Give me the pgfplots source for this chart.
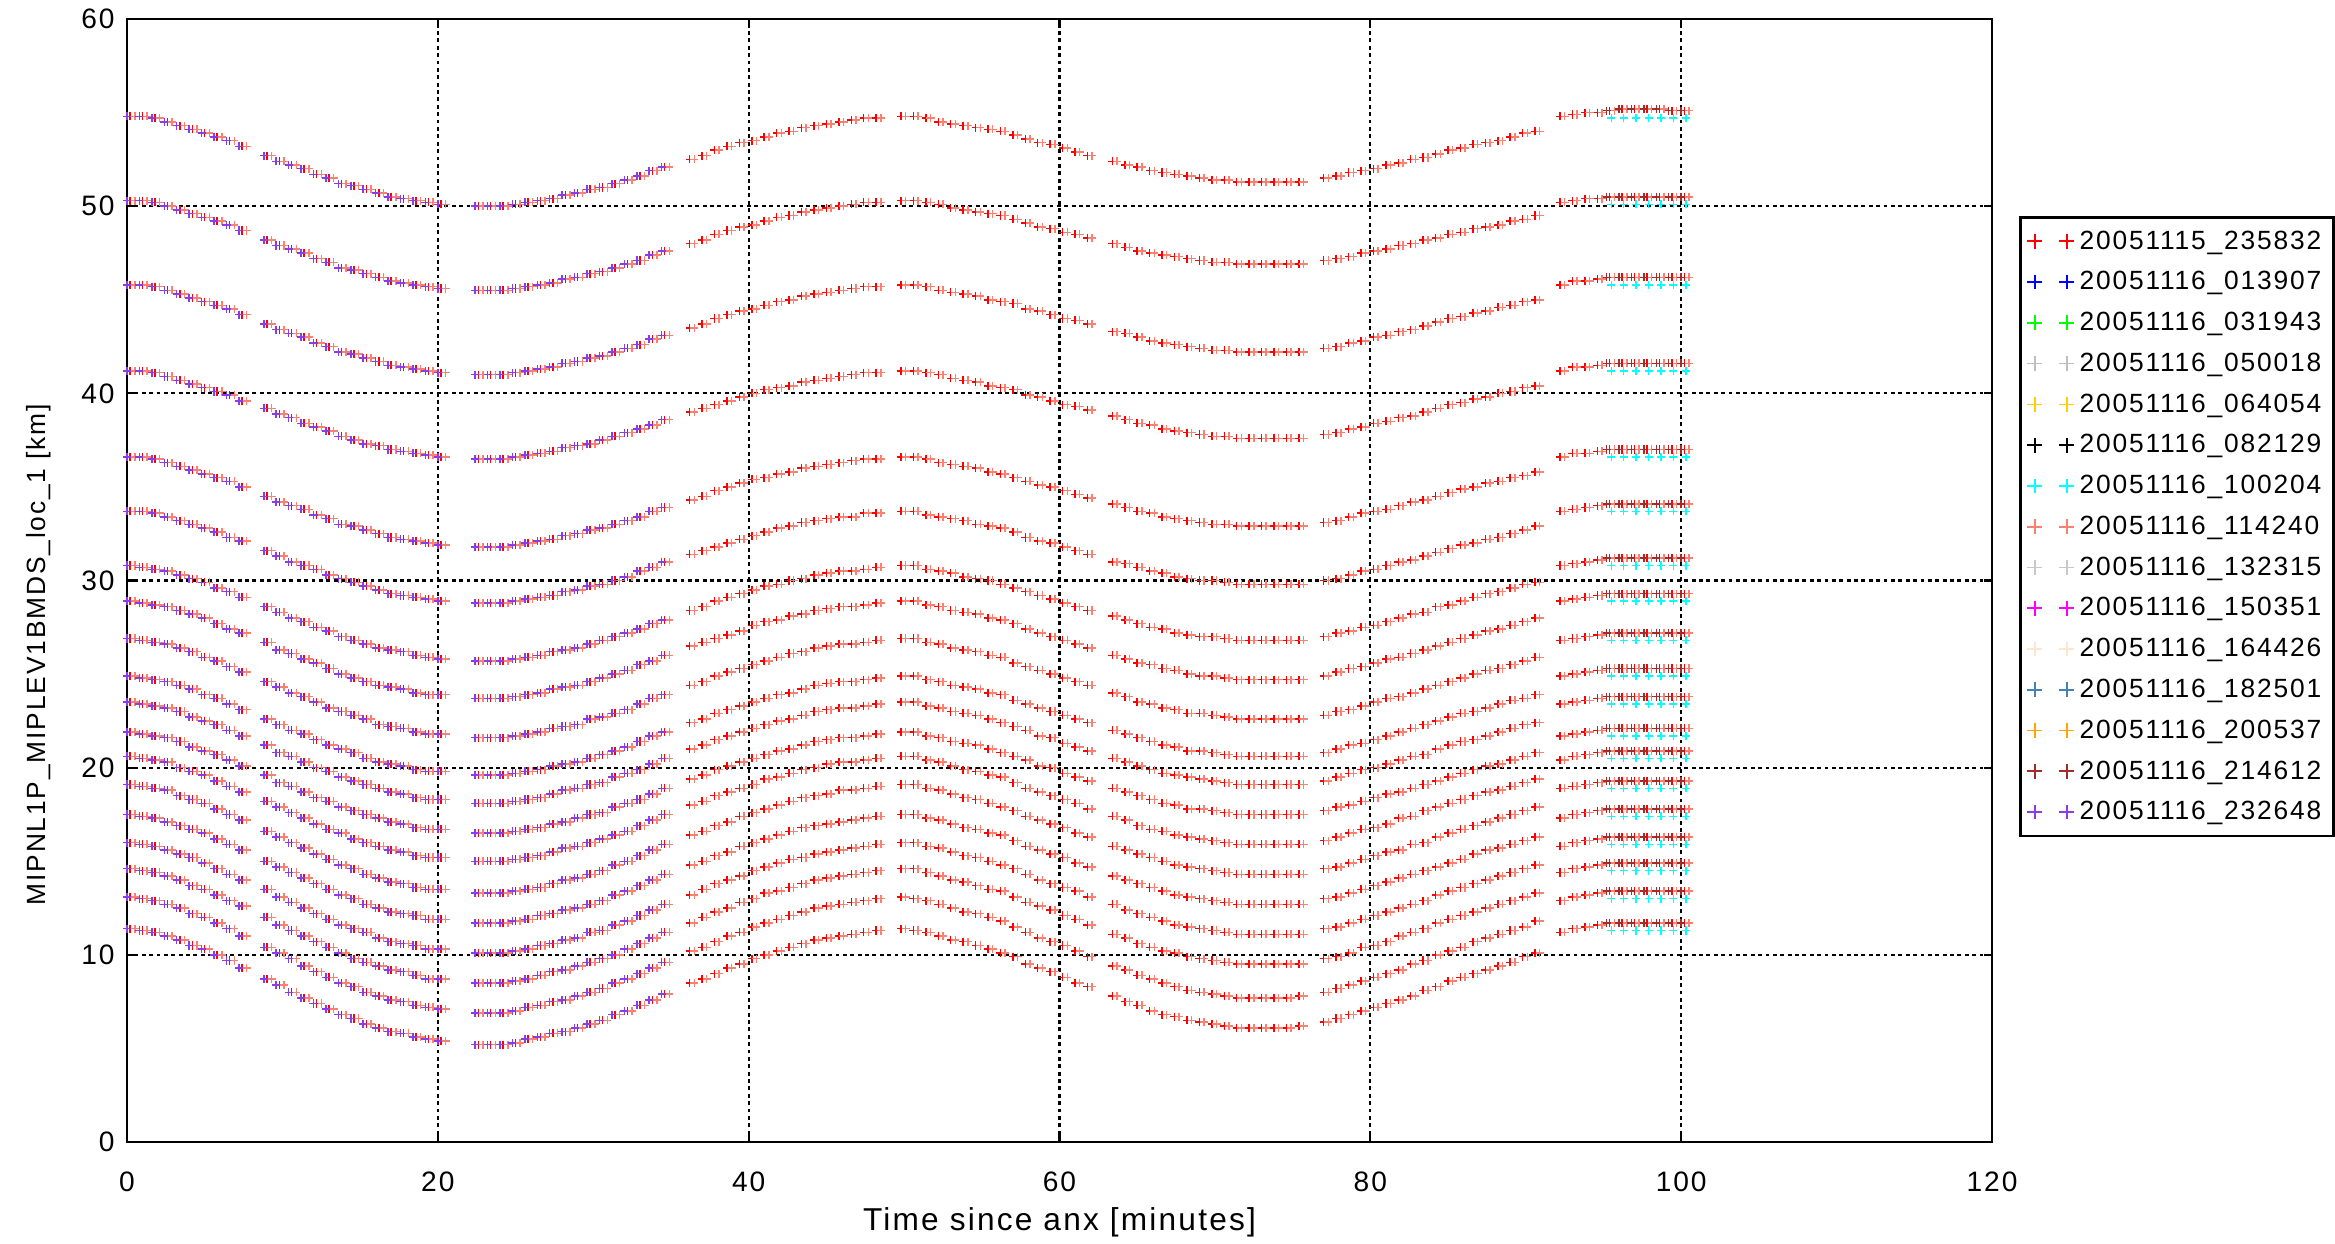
\documentclass[border=0pt]{standalone}
\usepackage{fontspec}
\setmainfont[LetterSpace=7]{Liberation Sans}
\usepackage{pgfplots}
\usepackage{pgfplotstable}
\pgfplotsset{compat=1.18}

\definecolor{cRed}{RGB}{255,0,0}
\definecolor{cBlue}{RGB}{0,0,255}
\definecolor{cGreen}{RGB}{0,255,0}
\definecolor{cGrayA}{RGB}{190,190,190}
\definecolor{cGold}{RGB}{255,205,0}
\definecolor{cBlack}{RGB}{0,0,0}
\definecolor{cCyan}{RGB}{0,255,255}
\definecolor{cSalmon}{RGB}{250,128,114}
\definecolor{cGrayB}{RGB}{200,200,200}
\definecolor{cMagenta}{RGB}{255,0,255}
\definecolor{cBisque}{RGB}{253,230,205}
\definecolor{cSteel}{RGB}{70,130,180}
\definecolor{cOrange}{RGB}{255,165,0}
\definecolor{cBrown}{RGB}{165,42,42}
\definecolor{cPurple}{RGB}{140,60,230}

% altitude tracks: t = time of red series, ts/tp = times of the overlapping series
\pgfplotstableread{
t ts tp c1 c2 c3 c4 c5 c6 c7 c8 c9 c10 c11 c12 c13 c14 c15 c16 c17 c18 c19
0.2 0.5 0.0 54.8 50.3 45.8 41.2 36.6 33.7 30.8 28.9 26.9 24.9 23.5 21.9 20.6 19.1 17.5 16.0 14.6 13.1 11.4
1.0 1.3 0.8 54.8 50.3 45.8 41.2 36.6 33.7 30.7 28.8 26.8 24.8 23.4 21.8 20.5 19.0 17.4 15.9 14.5 13.0 11.3
1.8 2.1 1.6 54.7 50.2 45.7 41.1 36.5 33.6 30.6 28.7 26.7 24.7 23.3 21.7 20.4 18.9 17.3 15.8 14.4 12.9 11.2
2.6 2.9 2.4 54.5 50.0 45.5 40.9 36.3 33.4 30.5 28.6 26.6 24.6 23.2 21.6 20.3 18.8 17.1 15.6 14.2 12.7 11.0
3.4 3.7 3.2 54.3 49.8 45.3 40.7 36.1 33.2 30.3 28.4 26.4 24.4 23.0 21.4 20.0 18.5 16.9 15.4 14.0 12.5 10.8
4.2 4.5 4.0 54.1 49.6 45.1 40.5 35.9 33.0 30.1 28.2 26.2 24.2 22.7 21.1 19.8 18.3 16.7 15.2 13.7 12.2 10.5
5.0 5.3 4.8 53.9 49.4 44.9 40.3 35.7 32.8 29.9 28.0 25.9 23.9 22.5 20.9 19.6 18.1 16.5 14.9 13.5 12.0 10.3
5.8 6.1 5.6 53.7 49.2 44.7 40.1 35.5 32.6 29.6 27.7 25.7 23.7 22.3 20.7 19.3 17.8 16.2 14.6 13.2 11.7 10.0
6.6 6.9 6.4 53.5 49.0 44.5 39.9 35.3 32.3 29.4 27.4 25.4 23.4 22.0 20.4 19.0 17.5 15.9 14.3 12.9 11.4 9.7
7.4 7.7 7.2 53.2 48.7 44.2 39.6 35.0 32.1 29.1 27.2 25.1 23.1 21.7 20.1 18.7 17.2 15.6 14.0 12.6 11.0 9.3
9.0 9.3 8.8 52.7 48.2 43.7 39.2 34.5 31.6 28.6 26.7 24.6 22.6 21.2 19.6 18.2 16.6 15.0 13.5 12.0 10.4 8.7
9.8 10.1 9.6 52.4 47.9 43.4 38.9 34.2 31.3 28.3 26.3 24.3 22.3 20.8 19.2 17.9 16.3 14.7 13.1 11.6 10.1 8.4
10.6 10.9 10.4 52.2 47.7 43.2 38.7 34.0 31.0 28.0 26.1 24.0 22.0 20.6 19.0 17.6 16.0 14.4 12.8 11.3 9.8 8.0
11.4 11.7 11.2 52.0 47.5 43.0 38.4 33.8 30.8 27.8 25.8 23.8 21.8 20.3 18.7 17.3 15.7 14.1 12.5 11.0 9.4 7.7
12.2 12.5 12.0 51.7 47.2 42.7 38.2 33.5 30.6 27.5 25.6 23.5 21.5 20.0 18.4 17.0 15.4 13.8 12.2 10.7 9.1 7.4
13.0 13.3 12.8 51.5 47.0 42.5 38.0 33.3 30.3 27.3 25.3 23.2 21.2 19.8 18.2 16.7 15.1 13.5 11.9 10.4 8.8 7.1
13.8 14.1 13.6 51.2 46.7 42.2 37.7 33.0 30.1 27.0 25.0 23.0 21.0 19.5 17.9 16.5 14.8 13.2 11.6 10.1 8.5 6.8
14.6 14.9 14.4 51.1 46.6 42.1 37.5 32.9 29.9 26.8 24.8 22.8 20.8 19.3 17.7 16.2 14.6 13.0 11.4 9.8 8.3 6.6
15.4 15.7 15.2 50.9 46.4 41.9 37.3 32.7 29.7 26.6 24.6 22.6 20.5 19.1 17.5 16.0 14.3 12.7 11.2 9.6 8.0 6.3
16.2 16.5 16.0 50.7 46.2 41.7 37.2 32.5 29.5 26.4 24.4 22.3 20.3 18.9 17.3 15.8 14.1 12.5 10.9 9.4 7.8 6.1
17.0 17.3 16.8 50.5 46.0 41.5 37.0 32.3 29.3 26.3 24.3 22.2 20.2 18.7 17.1 15.6 13.9 12.3 10.7 9.2 7.6 5.9
17.8 18.1 17.6 50.4 45.9 41.4 36.9 32.2 29.2 26.2 24.2 22.1 20.1 18.6 17.0 15.5 13.8 12.2 10.6 9.1 7.5 5.8
18.6 18.9 18.4 50.3 45.8 41.3 36.8 32.1 29.1 26.0 24.0 21.9 19.9 18.4 16.8 15.3 13.6 12.1 10.5 8.9 7.3 5.6
19.4 19.7 19.2 50.2 45.7 41.2 36.7 32.0 29.0 25.9 23.9 21.8 19.8 18.3 16.7 15.2 13.5 11.9 10.3 8.7 7.2 5.5
20.2 20.5 20.0 50.1 45.6 41.1 36.6 31.9 28.9 25.8 23.9 21.8 19.8 18.3 16.7 15.2 13.5 11.9 10.3 8.7 7.1 5.4
22.6 22.9 22.4 50.0 45.5 41.0 36.5 31.8 28.8 25.7 23.7 21.6 19.6 18.1 16.5 15.0 13.3 11.7 10.1 8.5 6.9 5.2
23.4 23.7 23.2 50.0 45.5 41.0 36.5 31.8 28.8 25.7 23.7 21.6 19.6 18.1 16.5 15.0 13.3 11.7 10.1 8.5 6.9 5.2
24.2 24.5 24.0 50.0 45.5 41.0 36.5 31.8 28.8 25.7 23.7 21.6 19.6 18.1 16.5 15.0 13.3 11.7 10.1 8.5 6.9 5.2
25.0 25.3 24.8 50.1 45.6 41.1 36.6 31.9 28.9 25.8 23.8 21.7 19.7 18.2 16.6 15.1 13.4 11.8 10.2 8.6 7.0 5.3
25.8 26.1 25.6 50.2 45.7 41.2 36.7 32.0 29.0 25.9 23.9 21.8 19.8 18.3 16.7 15.2 13.5 11.9 10.3 8.7 7.2 5.5
26.6 26.9 26.4 50.3 45.8 41.3 36.8 32.1 29.1 26.0 24.0 21.9 19.9 18.4 16.8 15.3 13.6 12.1 10.5 8.9 7.3 5.6
27.4 27.7 27.2 50.4 45.9 41.4 36.9 32.2 29.2 26.2 24.2 22.1 20.1 18.6 17.0 15.5 13.8 12.2 10.6 9.1 7.5 5.8
28.2 28.5 28.0 50.6 46.1 41.6 37.1 32.4 29.4 26.3 24.3 22.2 20.2 18.8 17.1 15.7 14.0 12.4 10.8 9.2 7.6 5.9
29.0 29.3 28.8 50.7 46.2 41.7 37.2 32.5 29.5 26.4 24.4 22.3 20.3 18.9 17.3 15.8 14.1 12.5 10.9 9.4 7.8 6.1
29.8 30.1 29.6 50.9 46.4 41.9 37.3 32.7 29.7 26.6 24.6 22.6 20.5 19.1 17.5 16.0 14.3 12.7 11.2 9.6 8.0 6.3
30.6 30.9 30.4 51.0 46.5 42.0 37.5 32.8 29.8 26.8 24.8 22.7 20.7 19.2 17.6 16.2 14.5 12.9 11.3 9.8 8.2 6.5
31.4 31.7 31.2 51.2 46.7 42.2 37.7 33.0 30.0 27.0 25.0 22.9 20.9 19.5 17.9 16.4 14.8 13.2 11.6 10.0 8.5 6.8
32.2 32.5 32.0 51.4 46.9 42.4 37.9 33.2 30.2 27.2 25.2 23.1 21.1 19.7 18.1 16.6 15.0 13.4 11.8 10.3 8.7 7.0
33.0 33.3 32.8 51.6 47.1 42.6 38.1 33.4 30.5 27.4 25.5 23.4 21.4 19.9 18.3 16.9 15.3 13.7 12.1 10.6 9.0 7.3
33.8 34.1 33.6 51.9 47.4 42.9 38.3 33.7 30.7 27.7 25.7 23.7 21.7 20.2 18.6 17.2 15.6 14.0 12.4 10.9 9.3 7.6
34.6 34.9 34.4 52.1 47.6 43.1 38.6 33.9 31.0 27.9 26.0 23.9 21.9 20.5 18.9 17.5 15.9 14.3 12.7 11.2 9.6 7.9
36.2 36.5 36.0 52.5 48.0 43.5 39.0 34.3 31.4 28.4 26.5 24.4 22.4 21.0 19.4 18.0 16.4 14.8 13.2 11.7 10.2 8.5
37.0 37.3 36.8 52.7 48.2 43.7 39.2 34.5 31.6 28.6 26.7 24.6 22.6 21.2 19.6 18.2 16.6 15.0 13.5 12.0 10.4 8.7
37.8 38.1 37.6 53.0 48.5 44.0 39.4 34.8 31.8 28.9 26.9 24.9 22.9 21.5 19.9 18.5 16.9 15.3 13.8 12.3 10.7 9.0
38.6 38.9 38.4 53.2 48.7 44.2 39.6 35.0 32.0 29.1 27.1 25.1 23.1 21.7 20.1 18.7 17.1 15.5 14.0 12.5 11.0 9.3
39.4 39.7 39.2 53.4 48.9 44.4 39.8 35.2 32.2 29.3 27.3 25.3 23.3 21.9 20.3 18.9 17.4 15.8 14.2 12.8 11.2 9.5
40.2 40.5 40.0 53.5 49.0 44.5 40.0 35.4 32.4 29.5 27.6 25.5 23.5 22.1 20.5 19.1 17.6 16.0 14.5 13.0 11.5 9.8
41.0 41.3 40.8 53.7 49.2 44.7 40.2 35.5 32.6 29.7 27.8 25.7 23.7 22.3 20.7 19.4 17.8 16.2 14.7 13.3 11.7 10.0
41.8 42.1 41.6 53.9 49.4 44.9 40.3 35.7 32.8 29.8 27.9 25.9 23.9 22.5 20.9 19.5 18.0 16.4 14.9 13.4 11.9 10.2
42.6 42.9 42.4 54.0 49.5 45.0 40.4 35.8 32.9 30.0 28.1 26.1 24.0 22.6 21.0 19.7 18.2 16.6 15.1 13.6 12.1 10.4
43.4 43.7 43.2 54.2 49.7 45.2 40.6 36.0 33.1 30.1 28.2 26.2 24.2 22.8 21.2 19.9 18.4 16.8 15.2 13.8 12.3 10.6
44.2 44.5 44.0 54.3 49.8 45.3 40.7 36.1 33.2 30.3 28.4 26.4 24.4 23.0 21.4 20.0 18.5 16.9 15.4 14.0 12.5 10.8
45.0 45.3 44.8 54.4 49.9 45.4 40.8 36.2 33.3 30.4 28.5 26.5 24.5 23.1 21.5 20.2 18.6 17.0 15.5 14.1 12.6 10.9
45.8 46.1 45.6 54.5 50.0 45.5 40.9 36.3 33.4 30.5 28.6 26.6 24.6 23.2 21.6 20.3 18.8 17.1 15.6 14.2 12.7 11.0
46.6 46.9 46.4 54.6 50.1 45.6 41.0 36.4 33.4 30.5 28.6 26.6 24.6 23.2 21.6 20.3 18.8 17.2 15.7 14.3 12.8 11.1
47.4 47.7 47.2 54.7 50.2 45.7 41.1 36.5 33.6 30.6 28.7 26.7 24.7 23.3 21.7 20.4 18.9 17.3 15.8 14.4 12.9 11.2
48.2 48.5 48.0 54.7 50.2 45.7 41.1 36.5 33.6 30.7 28.8 26.8 24.8 23.4 21.8 20.5 19.0 17.4 15.9 14.5 13.0 11.3
49.8 50.1 49.6 54.8 50.3 45.8 41.2 36.6 33.7 30.8 28.9 26.9 24.9 23.5 21.9 20.6 19.1 17.5 16.0 14.6 13.1 11.4
50.6 50.9 50.4 54.8 50.3 45.8 41.2 36.6 33.7 30.8 28.9 26.9 24.9 23.5 21.9 20.6 19.1 17.5 16.0 14.6 13.0 11.3
51.4 51.7 51.2 54.7 50.2 45.7 41.1 36.5 33.5 30.6 28.7 26.7 24.7 23.3 21.7 20.4 18.9 17.3 15.8 14.4 12.9 11.2
52.2 52.5 52.0 54.5 50.1 45.5 41.0 36.3 33.4 30.5 28.6 26.6 24.6 23.2 21.6 20.3 18.8 17.2 15.7 14.2 12.7 11.0
53.0 53.3 52.8 54.4 49.9 45.4 40.8 36.2 33.3 30.4 28.4 26.4 24.4 23.0 21.4 20.1 18.6 17.0 15.5 14.0 12.5 10.8
53.8 54.1 53.6 54.3 49.8 45.3 40.7 36.1 33.2 30.2 28.3 26.3 24.3 22.9 21.3 19.9 18.4 16.8 15.3 13.9 12.3 10.7
54.6 54.9 54.4 54.2 49.7 45.2 40.6 36.0 33.0 30.1 28.2 26.2 24.2 22.8 21.2 19.8 18.3 16.7 15.2 13.7 12.2 10.5
55.4 55.7 55.2 54.1 49.6 45.0 40.4 35.8 32.9 30.0 28.0 26.0 24.0 22.6 21.0 19.6 18.1 16.5 15.0 13.5 12.0 10.3
56.2 56.5 56.0 54.0 49.5 44.9 40.3 35.7 32.8 29.8 27.9 25.9 23.9 22.4 20.8 19.5 17.9 16.4 14.8 13.4 11.8 10.1
57.0 57.3 56.8 53.8 49.3 44.8 40.2 35.5 32.6 29.6 27.7 25.6 23.6 22.2 20.6 19.2 17.7 16.1 14.6 13.1 11.5 9.9
57.8 58.1 57.6 53.6 49.1 44.5 39.9 35.3 32.3 29.4 27.4 25.4 23.4 22.0 20.4 18.9 17.4 15.8 14.3 12.8 11.2 9.5
58.6 58.9 58.4 53.4 48.9 44.4 39.8 35.1 32.1 29.2 27.2 25.2 23.2 21.7 20.1 18.7 17.2 15.6 14.0 12.6 10.9 9.3
59.4 59.7 59.2 53.3 48.8 44.2 39.6 35.0 32.0 29.0 27.0 25.0 23.0 21.6 20.0 18.5 17.0 15.4 13.8 12.4 10.7 9.1
60.2 60.5 60.0 53.1 48.6 44.0 39.4 34.8 31.8 28.8 26.8 24.8 22.8 21.3 19.7 18.3 16.8 15.2 13.6 12.1 10.5 8.8
61.0 61.3 60.8 52.9 48.5 43.9 39.3 34.6 31.6 28.6 26.6 24.6 22.6 21.1 19.5 18.1 16.5 14.9 13.4 11.9 10.2 8.5
61.8 62.1 61.6 52.7 48.3 43.7 39.1 34.4 31.4 28.4 26.4 24.4 22.4 20.9 19.3 17.8 16.3 14.7 13.1 11.6 9.9 8.3
63.4 63.7 63.2 52.4 48.0 43.3 38.8 34.1 31.0 28.1 26.0 24.0 22.0 20.5 18.9 17.4 15.8 14.2 12.7 11.1 9.4 7.8
64.2 64.5 64.0 52.2 47.8 43.2 38.6 33.9 30.9 27.9 25.8 23.8 21.8 20.3 18.7 17.2 15.6 14.0 12.4 10.9 9.2 7.5
65.0 65.3 64.8 52.1 47.6 43.0 38.4 33.7 30.7 27.7 25.6 23.5 21.6 20.1 18.5 16.9 15.4 13.8 12.2 10.6 8.9 7.3
65.8 66.1 65.6 51.9 47.5 42.8 38.3 33.6 30.5 27.5 25.5 23.4 21.4 19.9 18.3 16.7 15.2 13.6 12.0 10.4 8.7 7.0
66.6 66.9 66.4 51.8 47.4 42.7 38.1 33.4 30.4 27.4 25.3 23.2 21.2 19.7 18.1 16.6 15.0 13.4 11.8 10.2 8.5 6.8
67.4 67.7 67.2 51.7 47.3 42.6 38.0 33.3 30.2 27.2 25.2 23.1 21.1 19.6 18.0 16.4 14.8 13.2 11.6 10.1 8.3 6.7
68.2 68.5 68.0 51.6 47.2 42.5 37.9 33.2 30.1 27.1 25.0 22.9 20.9 19.5 17.8 16.3 14.7 13.1 11.5 9.9 8.1 6.5
69.0 69.3 68.8 51.5 47.1 42.4 37.8 33.1 30.0 27.0 24.9 22.9 20.9 19.4 17.8 16.2 14.6 13.0 11.4 9.8 8.0 6.4
69.8 70.1 69.6 51.4 47.0 42.3 37.7 33.0 30.0 27.0 24.9 22.8 20.8 19.3 17.7 16.1 14.5 12.9 11.3 9.7 7.9 6.3
70.6 70.9 70.4 51.4 47.0 42.3 37.7 33.0 29.9 26.9 24.8 22.7 20.7 19.2 17.6 16.0 14.4 12.8 11.2 9.6 7.8 6.2
71.4 71.7 71.2 51.3 46.9 42.2 37.6 32.9 29.8 26.8 24.7 22.6 20.6 19.1 17.5 15.9 14.3 12.7 11.1 9.5 7.7 6.1
72.2 72.5 72.0 51.3 46.9 42.2 37.6 32.9 29.8 26.8 24.7 22.6 20.6 19.1 17.5 15.9 14.3 12.7 11.1 9.5 7.7 6.1
73.0 73.3 72.8 51.3 46.9 42.2 37.6 32.9 29.8 26.8 24.7 22.6 20.6 19.1 17.5 15.9 14.3 12.7 11.1 9.5 7.7 6.1
73.8 74.1 73.6 51.3 46.9 42.2 37.6 32.9 29.8 26.8 24.7 22.6 20.6 19.1 17.5 15.9 14.3 12.7 11.1 9.5 7.7 6.1
74.6 74.9 74.4 51.3 46.9 42.2 37.6 32.9 29.8 26.8 24.7 22.6 20.6 19.1 17.5 15.9 14.3 12.7 11.1 9.5 7.7 6.1
75.4 75.7 75.2 51.3 46.9 42.2 37.6 32.9 29.8 26.8 24.7 22.6 20.6 19.1 17.5 15.9 14.3 12.7 11.1 9.5 7.8 6.2
77.0 77.3 76.8 51.5 47.1 42.4 37.8 33.1 30.0 27.0 24.9 22.8 20.8 19.3 17.7 16.1 14.6 13.0 11.4 9.8 8.0 6.4
77.8 78.1 77.6 51.6 47.2 42.5 37.9 33.2 30.1 27.2 25.1 23.0 21.0 19.5 17.9 16.3 14.7 13.1 11.5 9.9 8.2 6.6
78.6 78.9 78.4 51.8 47.3 42.7 38.1 33.4 30.3 27.3 25.3 23.1 21.2 19.7 18.0 16.5 14.9 13.3 11.7 10.1 8.4 6.8
79.4 79.7 79.2 51.9 47.5 42.8 38.2 33.6 30.5 27.5 25.4 23.3 21.3 19.9 18.2 16.7 15.1 13.5 11.9 10.4 8.6 7.0
80.2 80.5 80.0 52.0 47.6 43.0 38.4 33.7 30.6 27.6 25.6 23.5 21.5 20.0 18.4 16.8 15.3 13.7 12.1 10.5 8.8 7.2
81.0 81.3 80.8 52.2 47.7 43.1 38.5 33.8 30.8 27.8 25.8 23.7 21.7 20.2 18.6 17.0 15.5 13.9 12.3 10.7 9.0 7.4
81.8 82.1 81.6 52.3 47.9 43.3 38.7 34.0 31.0 28.0 25.9 23.8 21.9 20.4 18.7 17.3 15.6 14.1 12.5 11.0 9.2 7.6
82.6 82.9 82.4 52.5 48.0 43.4 38.8 34.2 31.1 28.2 26.1 24.0 22.1 20.6 18.9 17.4 15.9 14.3 12.7 11.2 9.5 7.8
83.4 83.7 83.2 52.6 48.2 43.6 39.0 34.3 31.3 28.3 26.3 24.2 22.3 20.7 19.1 17.7 16.0 14.5 12.9 11.4 9.7 8.1
84.2 84.5 84.0 52.8 48.3 43.8 39.2 34.5 31.5 28.6 26.5 24.4 22.5 21.0 19.3 17.9 16.3 14.7 13.2 11.7 10.0 8.3
85.0 85.3 84.8 53.0 48.5 44.0 39.4 34.7 31.7 28.7 26.7 24.6 22.7 21.2 19.5 18.1 16.5 14.9 13.4 11.9 10.2 8.6
85.8 86.1 85.6 53.1 48.6 44.1 39.5 34.9 31.9 28.9 26.9 24.8 22.9 21.4 19.7 18.3 16.7 15.1 13.6 12.1 10.4 8.8
86.6 86.9 86.4 53.3 48.8 44.3 39.7 35.0 32.0 29.1 27.1 25.0 23.0 21.5 19.9 18.5 16.9 15.4 13.8 12.3 10.7 9.0
87.4 87.7 87.2 53.4 48.9 44.4 39.8 35.2 32.2 29.3 27.3 25.2 23.2 21.7 20.1 18.7 17.1 15.6 14.0 12.5 10.9 9.2
88.2 88.5 88.0 53.5 49.0 44.6 40.0 35.3 32.3 29.4 27.4 25.3 23.4 21.9 20.2 18.8 17.3 15.7 14.2 12.7 11.1 9.4
89.0 89.3 88.8 53.7 49.2 44.7 40.1 35.5 32.5 29.6 27.6 25.5 23.6 22.1 20.4 19.0 17.5 15.9 14.4 12.9 11.3 9.6
89.8 90.1 89.6 53.9 49.3 44.9 40.3 35.6 32.7 29.8 27.8 25.7 23.7 22.3 20.6 19.2 17.7 16.1 14.6 13.1 11.5 9.9
90.6 90.9 90.4 54.0 49.5 45.0 40.4 35.8 32.9 29.9 28.0 25.9 23.9 22.4 20.8 19.4 17.9 16.3 14.8 13.3 11.8 10.1
92.2 92.5 92.0 54.8 50.2 45.8 41.2 36.6 33.7 30.8 28.9 26.8 24.9 23.4 21.7 20.4 18.9 17.3 15.8 14.4 12.9 11.2
93.0 93.3 92.8 54.9 50.3 46.0 41.4 36.8 33.8 30.9 29.0 26.9 25.0 23.5 21.8 20.6 19.0 17.5 16.0 14.6 13.1 11.4
93.8 94.1 93.6 55.0 50.4 46.0 41.4 36.8 33.9 31.0 29.1 27.0 25.1 23.6 21.9 20.7 19.1 17.6 16.1 14.7 13.2 11.5
94.6 94.9 94.4 55.0 50.4 46.1 41.5 36.9 34.0 31.1 29.2 27.1 25.2 23.7 22.0 20.8 19.2 17.7 16.2 14.8 13.3 11.6
95.4 95.7 95.2 55.1 50.5 46.2 41.6 37.0 34.1 31.2 29.3 27.2 25.3 23.8 22.1 20.9 19.3 17.8 16.3 14.9 13.4 11.7
96.2 96.5 96.0 55.2 50.5 46.2 41.6 37.0 34.1 31.2 29.3 27.2 25.3 23.8 22.1 20.9 19.3 17.8 16.3 14.9 13.4 11.7
97.0 97.3 96.8 55.2 50.5 46.2 41.6 37.0 34.1 31.2 29.3 27.2 25.3 23.8 22.1 20.9 19.3 17.8 16.3 14.9 13.4 11.7
97.8 98.1 97.6 55.2 50.5 46.2 41.6 37.0 34.1 31.2 29.3 27.2 25.3 23.8 22.1 20.9 19.3 17.8 16.3 14.9 13.4 11.7
98.6 98.9 98.4 55.2 50.5 46.2 41.6 37.0 34.1 31.2 29.3 27.2 25.3 23.8 22.1 20.9 19.3 17.8 16.3 14.9 13.4 11.7
99.4 99.7 99.2 55.1 50.5 46.2 41.6 37.0 34.1 31.2 29.3 27.2 25.3 23.8 22.1 20.9 19.3 17.8 16.3 14.9 13.4 11.7
100.2 100.5 100.0 55.1 50.5 46.2 41.6 37.0 34.1 31.2 29.3 27.2 25.3 23.8 22.1 20.9 19.3 17.8 16.3 14.9 13.4 11.7
}\datamain

% series 20051116_100204 (cyan), visible only at the end of the orbit
\pgfplotstableread{
t c1 c2 c3 c4 c5 c6 c7 c8 c9 c10 c11 c12 c13 c14 c15 c16 c17 c18 c19
95.5 54.7 50.1 45.8 41.2 36.6 33.7 30.8 28.9 26.8 24.9 23.4 21.7 20.5 18.9 17.4 15.9 14.5 13.0 11.3
96.3 54.7 50.1 45.8 41.2 36.6 33.7 30.8 28.9 26.8 24.9 23.4 21.7 20.5 18.9 17.4 15.9 14.5 13.0 11.3
97.1 54.7 50.1 45.8 41.2 36.6 33.7 30.8 28.9 26.8 24.9 23.4 21.7 20.5 18.9 17.4 15.9 14.5 13.0 11.3
97.9 54.7 50.1 45.8 41.2 36.6 33.7 30.8 28.9 26.8 24.9 23.4 21.7 20.5 18.9 17.4 15.9 14.5 13.0 11.3
98.7 54.7 50.1 45.8 41.2 36.6 33.7 30.8 28.9 26.8 24.9 23.4 21.7 20.5 18.9 17.4 15.9 14.5 13.0 11.3
99.5 54.7 50.1 45.8 41.2 36.6 33.7 30.8 28.9 26.8 24.9 23.4 21.7 20.5 18.9 17.4 15.9 14.5 13.0 11.3
100.3 54.7 50.1 45.8 41.2 36.6 33.7 30.8 28.9 26.8 24.9 23.4 21.7 20.5 18.9 17.4 15.9 14.5 13.0 11.3
}\datacyan

\pgfplotsset{mk/.style={only marks, mark=+, mark size=1.15pt, line width=0.42pt, forget plot}}

\begin{document}
\begin{tikzpicture}
\useasboundingbox (0,0) rectangle (23.35cm,12.43cm);
\begin{axis}[
  at={(1.27cm,1.01cm)}, anchor=south west,
  scale only axis, width=18.65cm, height=11.23cm,
  xmin=0, xmax=120, ymin=0, ymax=60,
  xtick={0,20,...,120}, ytick={0,10,...,60},
  grid=major,
  major grid style={black, line width=0.6pt, dash pattern=on 1.1pt off 1.0pt},
  axis line style={black, line width=0.7pt},
  tick align=inside, major tick length=0.08cm,
  tick style={black, line width=0.6pt},
  /pgf/number format/assume math mode=true,
  ticklabel style={font=\fontsize{8}{9}\selectfont},
  xticklabel style={yshift=-0.17cm},
  xlabel={Time since anx [minutes]},
  ylabel={MIPNL1P\_MIPLEV1BMDS\_loc\_1 [km]},
  every axis x label/.style={at={(axis description cs:0.5,-0.0784)}, anchor=base, font=\fontsize{9}{10}\selectfont},
  every axis y label/.style={at={(axis description cs:-0.0472,0.434)}, rotate=90, anchor=center, font=\fontsize{7.5}{9}\selectfont},
  legend style={at={(axis description cs:1.0145,0.8246)}, anchor=north west, draw=black, line width=0.8pt,
    font=\fontsize{7.5}{9}\selectfont, row sep=0pt, inner xsep=2pt, inner ysep=1pt,
    nodes={inner sep=1.5pt, text height=6.5pt, text depth=2.1pt}},
  legend cell align=left,
  legend image code/.code={\draw[#1, line width=0.5pt, mark size=2.1pt] plot coordinates {(0cm,0cm) (0.32cm,0cm)};},
]
% 20051115_235832 (red)
\pgfplotsinvokeforeach{1,...,19}{\addplot[mk, cRed] table[x=t, y=c#1] {\datamain};}
% 20051116_100204 (cyan)
\pgfplotsinvokeforeach{1,...,19}{\addplot[mk, cCyan] table[x=t, y=c#1] {\datacyan};}
% 20051116_114240 (salmon)
\pgfplotsinvokeforeach{1,...,19}{\addplot[mk, cSalmon] table[x=ts, y=c#1] {\datamain};}
% 20051116_214612 (brown), end of orbit
\pgfplotsinvokeforeach{1,...,19}{\addplot[mk, cBrown, restrict x to domain=95:101] table[x=tp, y=c#1] {\datamain};}
% 20051116_232648 (purple), start of orbit
\pgfplotsinvokeforeach{1,...,19}{\addplot[mk, cPurple, restrict x to domain=-1:34.5] table[x=tp, y=c#1] {\datamain};}

\addlegendimage{only marks, mark=+, cRed}\addlegendentry{20051115\_235832}
\addlegendimage{only marks, mark=+, cBlue}\addlegendentry{20051116\_013907}
\addlegendimage{only marks, mark=+, cGreen}\addlegendentry{20051116\_031943}
\addlegendimage{only marks, mark=+, cGrayA}\addlegendentry{20051116\_050018}
\addlegendimage{only marks, mark=+, cGold}\addlegendentry{20051116\_064054}
\addlegendimage{only marks, mark=+, cBlack}\addlegendentry{20051116\_082129}
\addlegendimage{only marks, mark=+, cCyan}\addlegendentry{20051116\_100204}
\addlegendimage{only marks, mark=+, cSalmon}\addlegendentry{20051116\_114240}
\addlegendimage{only marks, mark=+, cGrayB}\addlegendentry{20051116\_132315}
\addlegendimage{only marks, mark=+, cMagenta}\addlegendentry{20051116\_150351}
\addlegendimage{only marks, mark=+, cBisque}\addlegendentry{20051116\_164426}
\addlegendimage{only marks, mark=+, cSteel}\addlegendentry{20051116\_182501}
\addlegendimage{only marks, mark=+, cOrange}\addlegendentry{20051116\_200537}
\addlegendimage{only marks, mark=+, cBrown}\addlegendentry{20051116\_214612}
\addlegendimage{only marks, mark=+, cPurple}\addlegendentry{20051116\_232648}
\end{axis}
\end{tikzpicture}
\end{document}
